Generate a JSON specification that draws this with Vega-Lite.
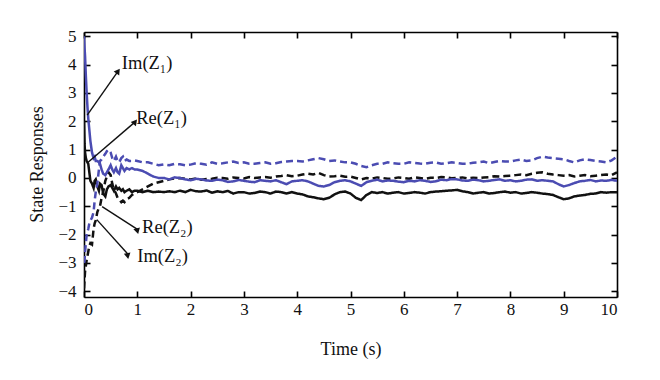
{
  "$schema": "https://vega.github.io/schema/vega-lite/v6.json",
  "width": 533,
  "height": 265,
  "autosize": {"type": "none"},
  "padding": {"left": 84, "top": 32, "right": 43, "bottom": 83},
  "background": "white",
  "config": {
    "view": {"stroke": null},
    "font": "Liberation Serif",
    "axis": {
      "domain": true, "domainColor": "#000000", "domainWidth": 1.6, "domainOpacity": 1,
      "grid": false, "ticks": true, "zindex": 2,
      "tickColor": "#000000", "tickSize": -6, "tickWidth": 1.6, "tickOpacity": 1,
      "labelFont": "Liberation Serif", "labelFontSize": 17, "labelColor": "#111111",
      "titleFont": "Liberation Serif", "titleFontSize": 18, "titleFontWeight": "normal", "titleColor": "#111111"
    }
  },
  "datasets": {
    "series": [
      {"t": 0, "a": 5.0, "b": 2.0, "c": -3.0, "d": -3.9},
      {"t": 0.01, "a": 4.6, "b": 1.2, "c": -2.9, "d": -3.6},
      {"t": 0.02, "a": 4.3, "b": 0.9, "c": -2.6, "d": -3.3},
      {"t": 0.035, "a": 3.6, "b": 0.7, "c": -2.3, "d": -3.1},
      {"t": 0.05, "a": 3.0, "b": 0.6, "c": -2.0, "d": -2.9},
      {"t": 0.065, "a": 2.5, "b": 0.55, "c": -1.9, "d": -2.75},
      {"t": 0.08, "a": 2.1, "b": 0.5, "c": -1.8, "d": -2.6},
      {"t": 0.1, "a": 1.7, "b": 0.2, "c": -1.6, "d": -2.4},
      {"t": 0.12, "a": 1.3, "b": -0.1, "c": -1.5, "d": -2.3},
      {"t": 0.15, "a": 0.9, "b": -0.2, "c": -1.4, "d": -2.35},
      {"t": 0.18, "a": 0.7, "b": -0.35, "c": -1.2, "d": -1.8},
      {"t": 0.2, "a": 0.75, "b": -0.1, "c": -0.8, "d": -1.6},
      {"t": 0.22, "a": 0.6, "b": -0.05, "c": -0.5, "d": -1.5},
      {"t": 0.25, "a": 0.6, "b": -0.3, "c": -0.2, "d": -1.2},
      {"t": 0.28, "a": 0.55, "b": -0.45, "c": 0.3, "d": -1.05},
      {"t": 0.3, "a": 0.5, "b": -0.2, "c": 0.6, "d": -1.0},
      {"t": 0.33, "a": 0.3, "b": -0.25, "c": 0.65, "d": -0.7},
      {"t": 0.36, "a": 0.15, "b": -0.55, "c": 0.75, "d": -0.5},
      {"t": 0.4, "a": 0.1, "b": -0.65, "c": 0.85, "d": -0.1},
      {"t": 0.43, "a": 0.2, "b": -0.4, "c": 0.95, "d": 0.05},
      {"t": 0.46, "a": 0.3, "b": -0.3, "c": 1.0, "d": 0.2},
      {"t": 0.5, "a": 0.45, "b": -0.25, "c": 0.9, "d": 0.1},
      {"t": 0.53, "a": 0.3, "b": -0.35, "c": 0.7, "d": -0.2},
      {"t": 0.56, "a": 0.2, "b": -0.45, "c": 0.6, "d": -0.4},
      {"t": 0.6, "a": 0.35, "b": -0.3, "c": 0.75, "d": -0.55},
      {"t": 0.63, "a": 0.2, "b": -0.4, "c": 0.6, "d": -0.7},
      {"t": 0.66, "a": 0.15, "b": -0.35, "c": 0.55, "d": -0.75},
      {"t": 0.7, "a": 0.45, "b": -0.45, "c": 0.7, "d": -0.85},
      {"t": 0.73, "a": 0.35, "b": -0.4, "c": 0.75, "d": -0.8},
      {"t": 0.76, "a": 0.25, "b": -0.5, "c": 0.6, "d": -0.85},
      {"t": 0.8, "a": 0.35, "b": -0.45, "c": 0.65, "d": -0.75},
      {"t": 0.85, "a": 0.3, "b": -0.4, "c": 0.6, "d": -0.7},
      {"t": 0.9, "a": 0.35, "b": -0.5, "c": 0.6, "d": -0.6},
      {"t": 0.95, "a": 0.3, "b": -0.45, "c": 0.62, "d": -0.55},
      {"t": 1.0, "a": 0.3, "b": -0.45, "c": 0.6, "d": -0.5},
      {"t": 1.1, "a": 0.25, "b": -0.5, "c": 0.55, "d": -0.4},
      {"t": 1.2, "a": 0.15, "b": -0.45, "c": 0.55, "d": -0.3},
      {"t": 1.3, "a": 0.05, "b": -0.5, "c": 0.5, "d": -0.2},
      {"t": 1.4, "a": 0.0, "b": -0.48, "c": 0.45, "d": -0.15},
      {"t": 1.5, "a": 0.0, "b": -0.5, "c": 0.48, "d": -0.1},
      {"t": 1.6, "a": -0.05, "b": -0.47, "c": 0.45, "d": -0.05},
      {"t": 1.7, "a": 0.02, "b": -0.5, "c": 0.5, "d": -0.02},
      {"t": 1.8, "a": 0.0, "b": -0.45, "c": 0.48, "d": 0.0},
      {"t": 1.9, "a": -0.05, "b": -0.5, "c": 0.45, "d": -0.03},
      {"t": 2.0, "a": -0.08, "b": -0.42, "c": 0.47, "d": -0.05},
      {"t": 2.1, "a": -0.03, "b": -0.47, "c": 0.52, "d": -0.02},
      {"t": 2.2, "a": -0.05, "b": -0.48, "c": 0.5, "d": -0.06},
      {"t": 2.3, "a": -0.09, "b": -0.44, "c": 0.47, "d": -0.04},
      {"t": 2.4, "a": -0.1, "b": -0.52, "c": 0.55, "d": -0.03},
      {"t": 2.5, "a": -0.06, "b": -0.47, "c": 0.5, "d": 0.01},
      {"t": 2.6, "a": -0.08, "b": -0.5, "c": 0.52, "d": 0.0},
      {"t": 2.7, "a": -0.14, "b": -0.46, "c": 0.55, "d": -0.03},
      {"t": 2.8, "a": -0.12, "b": -0.55, "c": 0.58, "d": 0.02},
      {"t": 2.9, "a": -0.07, "b": -0.5, "c": 0.53, "d": 0.0},
      {"t": 3.0, "a": -0.1, "b": -0.5, "c": 0.55, "d": -0.02},
      {"t": 3.1, "a": -0.13, "b": -0.55, "c": 0.5, "d": 0.03},
      {"t": 3.2, "a": -0.15, "b": -0.53, "c": 0.5, "d": 0.0},
      {"t": 3.3, "a": -0.08, "b": -0.48, "c": 0.53, "d": 0.02},
      {"t": 3.4, "a": -0.1, "b": -0.5, "c": 0.55, "d": 0.03},
      {"t": 3.5, "a": -0.12, "b": -0.55, "c": 0.5, "d": 0.01},
      {"t": 3.6, "a": -0.08, "b": -0.48, "c": 0.52, "d": 0.05},
      {"t": 3.7, "a": -0.15, "b": -0.5, "c": 0.56, "d": 0.07},
      {"t": 3.8, "a": -0.22, "b": -0.55, "c": 0.58, "d": 0.1},
      {"t": 3.9, "a": -0.12, "b": -0.5, "c": 0.6, "d": 0.06},
      {"t": 4.0, "a": -0.1, "b": -0.55, "c": 0.6, "d": 0.08},
      {"t": 4.1, "a": -0.08, "b": -0.58, "c": 0.58, "d": 0.12},
      {"t": 4.2, "a": -0.12, "b": -0.65, "c": 0.62, "d": 0.15},
      {"t": 4.3, "a": -0.2, "b": -0.68, "c": 0.66, "d": 0.12},
      {"t": 4.4, "a": -0.28, "b": -0.72, "c": 0.7, "d": 0.18},
      {"t": 4.5, "a": -0.3, "b": -0.75, "c": 0.66, "d": 0.1},
      {"t": 4.6, "a": -0.25, "b": -0.7, "c": 0.6, "d": 0.05},
      {"t": 4.7, "a": -0.15, "b": -0.58, "c": 0.62, "d": 0.06},
      {"t": 4.8, "a": -0.1, "b": -0.5, "c": 0.58, "d": 0.08},
      {"t": 4.9, "a": -0.08, "b": -0.48, "c": 0.55, "d": 0.04},
      {"t": 5.0, "a": -0.12, "b": -0.55, "c": 0.55, "d": 0.05},
      {"t": 5.1, "a": -0.2, "b": -0.7, "c": 0.5, "d": 0.0},
      {"t": 5.2, "a": -0.28, "b": -0.78, "c": 0.42, "d": -0.05},
      {"t": 5.3, "a": -0.15, "b": -0.6, "c": 0.38, "d": 0.0},
      {"t": 5.4, "a": -0.1, "b": -0.5, "c": 0.45, "d": -0.02},
      {"t": 5.5, "a": -0.06, "b": -0.53, "c": 0.5, "d": 0.02},
      {"t": 5.6, "a": -0.12, "b": -0.5, "c": 0.5, "d": 0.0},
      {"t": 5.7, "a": -0.09, "b": -0.55, "c": 0.55, "d": -0.03},
      {"t": 5.8, "a": -0.1, "b": -0.52, "c": 0.52, "d": -0.02},
      {"t": 5.9, "a": -0.13, "b": -0.5, "c": 0.5, "d": 0.02},
      {"t": 6.0, "a": -0.15, "b": -0.55, "c": 0.5, "d": 0.0},
      {"t": 6.1, "a": -0.1, "b": -0.53, "c": 0.55, "d": -0.03},
      {"t": 6.2, "a": -0.12, "b": -0.5, "c": 0.53, "d": 0.02},
      {"t": 6.3, "a": -0.08, "b": -0.52, "c": 0.51, "d": 0.0},
      {"t": 6.4, "a": -0.1, "b": -0.55, "c": 0.5, "d": -0.03},
      {"t": 6.5, "a": -0.14, "b": -0.5, "c": 0.54, "d": 0.01},
      {"t": 6.6, "a": -0.12, "b": -0.48, "c": 0.55, "d": 0.0},
      {"t": 6.7, "a": -0.06, "b": -0.47, "c": 0.5, "d": 0.03},
      {"t": 6.8, "a": -0.08, "b": -0.45, "c": 0.52, "d": 0.02},
      {"t": 6.9, "a": -0.04, "b": -0.44, "c": 0.55, "d": -0.01},
      {"t": 7.0, "a": -0.05, "b": -0.42, "c": 0.53, "d": 0.0},
      {"t": 7.1, "a": -0.09, "b": -0.47, "c": 0.5, "d": 0.02},
      {"t": 7.2, "a": -0.1, "b": -0.5, "c": 0.5, "d": -0.02},
      {"t": 7.3, "a": -0.06, "b": -0.55, "c": 0.54, "d": 0.01},
      {"t": 7.4, "a": -0.08, "b": -0.52, "c": 0.55, "d": 0.0},
      {"t": 7.5, "a": -0.12, "b": -0.5, "c": 0.58, "d": 0.02},
      {"t": 7.6, "a": -0.1, "b": -0.55, "c": 0.52, "d": 0.03},
      {"t": 7.7, "a": -0.07, "b": -0.53, "c": 0.56, "d": 0.06},
      {"t": 7.8, "a": -0.05, "b": -0.5, "c": 0.6, "d": 0.05},
      {"t": 7.9, "a": -0.1, "b": -0.48, "c": 0.58, "d": 0.07},
      {"t": 8.0, "a": -0.08, "b": -0.52, "c": 0.58, "d": 0.08},
      {"t": 8.1, "a": -0.12, "b": -0.5, "c": 0.62, "d": 0.1},
      {"t": 8.2, "a": -0.1, "b": -0.55, "c": 0.65, "d": 0.12},
      {"t": 8.3, "a": -0.06, "b": -0.53, "c": 0.6, "d": 0.1},
      {"t": 8.4, "a": -0.05, "b": -0.5, "c": 0.62, "d": 0.15},
      {"t": 8.5, "a": -0.1, "b": -0.52, "c": 0.7, "d": 0.18},
      {"t": 8.6, "a": -0.08, "b": -0.55, "c": 0.75, "d": 0.2},
      {"t": 8.7, "a": -0.1, "b": -0.57, "c": 0.72, "d": 0.15},
      {"t": 8.8, "a": -0.12, "b": -0.6, "c": 0.7, "d": 0.12},
      {"t": 8.9, "a": -0.22, "b": -0.68, "c": 0.68, "d": 0.1},
      {"t": 9.0, "a": -0.3, "b": -0.75, "c": 0.66, "d": 0.08},
      {"t": 9.1, "a": -0.25, "b": -0.72, "c": 0.6, "d": 0.1},
      {"t": 9.2, "a": -0.18, "b": -0.65, "c": 0.55, "d": 0.05},
      {"t": 9.3, "a": -0.12, "b": -0.62, "c": 0.62, "d": 0.08},
      {"t": 9.4, "a": -0.1, "b": -0.6, "c": 0.66, "d": 0.1},
      {"t": 9.5, "a": -0.07, "b": -0.56, "c": 0.63, "d": 0.06},
      {"t": 9.6, "a": -0.12, "b": -0.55, "c": 0.6, "d": 0.08},
      {"t": 9.7, "a": -0.09, "b": -0.5, "c": 0.58, "d": 0.1},
      {"t": 9.8, "a": -0.1, "b": -0.52, "c": 0.55, "d": 0.12},
      {"t": 9.9, "a": -0.07, "b": -0.5, "c": 0.62, "d": 0.1},
      {"t": 10.0, "a": -0.1, "b": -0.5, "c": 0.75, "d": 0.2}
    ],
    "arrows": [
      {"label": "Im(Z₁)", "x1": 0.06, "y1": 2.22, "x2": 0.64, "y2": 3.77, "tx": 0.71, "ty": 4.05},
      {"label": "Re(Z₁)", "x1": 0.06, "y1": 0.53, "x2": 0.96, "y2": 1.98, "tx": 0.98, "ty": 2.12},
      {"label": "Re(Z₂)", "x1": 0.34, "y1": -1.01, "x2": 1.01, "y2": -1.82, "tx": 1.09, "ty": -1.72},
      {"label": "Im(Z₂)", "x1": 0.24, "y1": -1.47, "x2": 0.83, "y2": -2.7, "tx": 1.0, "ty": -2.77}
    ]
  },
  "layer": [
    {
      "data": {"name": "series"},
      "transform": [{"fold": ["b", "d", "c", "a"], "as": ["s", "v"]}],
      "mark": {"type": "line", "strokeWidth": 2.5, "clip": true},
      "encoding": {
        "x": {"field": "t", "type": "quantitative", "scale": {"domain": [0, 10], "nice": false},
              "axis": {"orient": "bottom", "values": [0,1,2,3,4,5,6,7,8,9,10], "title": "Time (s)", "labelPadding": 10,
                       "titleX": 266.5, "titleY": 52, "titleBaseline": "middle"}},
        "y": {"field": "v", "type": "quantitative", "scale": {"domain": [-4.2, 5.15], "nice": false, "zero": false},
              "axis": {"orient": "left", "values": [-4,-3,-2,-1,0,1,2,3,4,5], "title": "State Responses", "labelPadding": 14,
                       "titleX": -47, "titleY": 132, "titleBaseline": "middle", "titleAngle": -90, "titleAlign": "center"}},
        "color": {"field": "s", "type": "nominal", "legend": null,
                  "scale": {"domain": ["a", "b", "c", "d"], "range": ["#4b4cb2", "#111111", "#4b4cb2", "#111111"]}},
        "strokeDash": {"field": "s", "type": "nominal", "legend": null,
                  "scale": {"domain": ["a", "b", "c", "d"], "range": [[1, 0], [1, 0], [7, 4], [7, 4]]}}
      }
    },
    {
      "data": {"name": "arrows"},
      "mark": {"type": "rule", "color": "#111111", "strokeWidth": 1.4},
      "encoding": {
        "x": {"field": "x1", "type": "quantitative", "axis": {"orient": "top", "values": [0,1,2,3,4,5,6,7,8,9,10], "labels": false, "title": null}},
        "y": {"field": "y1", "type": "quantitative", "axis": {"orient": "right", "values": [-4,-3,-2,-1,0,1,2,3,4,5], "labels": false, "title": null}},
        "x2": {"field": "x2"},
        "y2": {"field": "y2"}
      }
    },
    {
      "data": {"name": "arrows"},
      "mark": {"type": "point", "shape": "triangle-up", "filled": true, "color": "#111111", "size": 45, "opacity": 1},
      "encoding": {
        "x": {"field": "x2", "type": "quantitative", "axis": null},
        "y": {"field": "y2", "type": "quantitative", "axis": null},
        "angle": {"field": "label", "type": "nominal", "legend": null,
                  "scale": {"domain": ["Im(Z₁)", "Re(Z₁)", "Re(Z₂)", "Im(Z₂)"], "range": [35, 49, 123, 138]}}
      }
    },
    {
      "data": {"name": "arrows"},
      "mark": {"type": "text", "align": "left", "baseline": "middle", "font": "Liberation Serif", "fontSize": 18.5, "color": "#111111"},
      "encoding": {
        "x": {"field": "tx", "type": "quantitative", "axis": null},
        "y": {"field": "ty", "type": "quantitative", "axis": null},
        "text": {"field": "label"}
      }
    }
  ]
}
